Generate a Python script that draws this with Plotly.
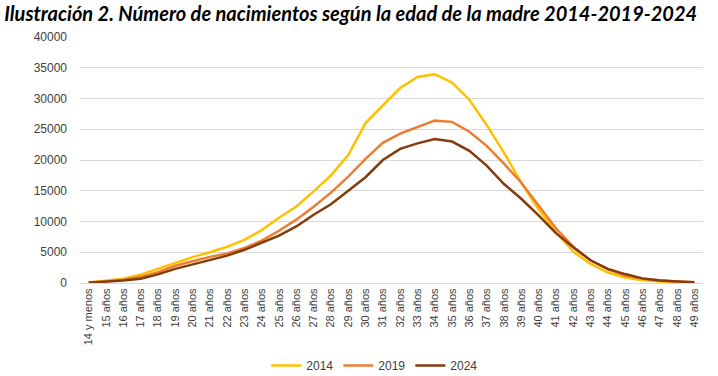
import plotly.graph_objects as go

edades = ["14 y menos"] + [f"{a} años" for a in range(15, 50)]

v2014 = [100, 350, 700, 1350, 2300, 3300, 4200, 5000, 5900, 7000, 8600, 10600,
         12450, 14900, 17500, 20800, 26000, 28900, 31700, 33500, 33950, 32600,
         29800, 25700, 21200, 16300, 12000, 8300, 5100, 3100, 1700, 900, 450,
         250, 150, 100]
v2019 = [80, 250, 550, 1000, 1750, 2800, 3550, 4250, 4800, 5700, 6900, 8500,
         10300, 12400, 14700, 17300, 20200, 22800, 24300, 25400, 26400, 26200,
         24600, 22300, 19400, 16300, 12500, 8900, 5900, 3700, 2200, 1200, 700,
         400, 220, 120]
v2024 = [60, 180, 400, 700, 1400, 2300, 3000, 3800, 4450, 5400, 6600, 7700,
         9200, 11100, 12800, 15000, 17200, 20000, 21800, 22700, 23400, 23000,
         21500, 19100, 16100, 13700, 11000, 8100, 5800, 3700, 2300, 1450, 750,
         400, 230, 120]

series = [("2014", v2014, "#FFC000"), ("2019", v2019, "#ED7D31"), ("2024", v2024, "#843C0C")]

fig = go.Figure()
for name, vals, col in series:
    fig.add_trace(go.Scatter(x=edades, y=vals, name=name, mode="lines",
                             line=dict(color=col, width=2.5)))

fig.update_layout(
    width=718, height=376,
    margin=dict(l=80, r=15, t=37, b=93, autoexpand=False),
    paper_bgcolor="white", plot_bgcolor="white",
    title=dict(text="Ilustración 2. Número de nacimientos según la edad de la madre 2014-2019-2024",
               x=0.006, xanchor="left", y=0.962, yanchor="middle", xref="container", yref="container",
               font=dict(family="Lato", size=20, color="black", weight="bold", style="italic")),
    legend=dict(orientation="h", x=0.522, xanchor="center", xref="container",
                y=0.028, yanchor="middle", yref="container",
                font=dict(family="Liberation Sans", size=12, color="#404040"),
                itemwidth=30, tracegroupgap=0),
    showlegend=True,
)
fig.update_xaxes(type="category", tickangle=-90, showgrid=False, showline=True,
                 linecolor="#D9D9D9", linewidth=1, ticks="", automargin=False,
                 tickfont=dict(family="Liberation Sans", size=11, color="#404040"),
                 range=[-0.5, 35.5])
fig.update_yaxes(range=[0, 40000], dtick=5000, tickformat="d", showgrid=True,
                 gridcolor="#D9D9D9", gridwidth=1, zeroline=False, showline=False,
                 ticks="", ticklabelstandoff=12, automargin=False,
                 tickfont=dict(family="Liberation Sans", size=12, color="#404040"))

fig.write_html("out.html", config={"displayModeBar": False},
               post_script="document.body.style.margin='0';document.body.style.overflow='hidden';")
